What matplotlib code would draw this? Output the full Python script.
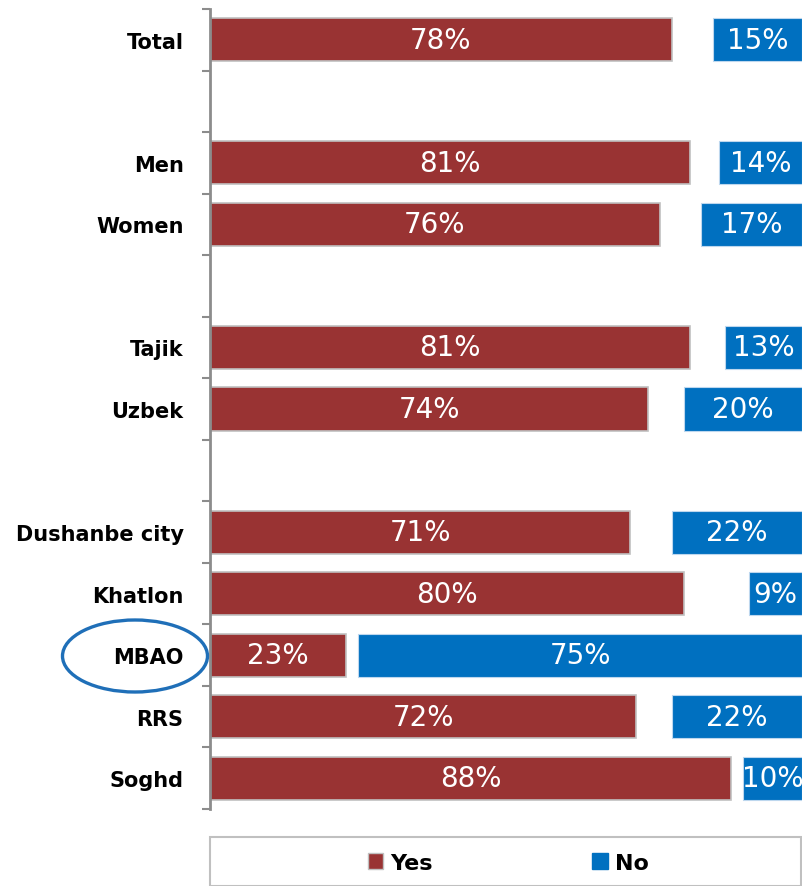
import matplotlib
matplotlib.use("Agg")
import matplotlib.pyplot as plt
from matplotlib.patches import Ellipse, Rectangle, Patch
import numpy as np

categories = ["Total", "", "Men", "Women", "", "Tajik", "Uzbek", "",
              "Dushanbe city", "Khatlon", "MBAO", "RRS", "Soghd"]
yes_vals = [78, None, 81, 76, None, 81, 74, None, 71, 80, 23, 72, 88]
no_vals = [15, None, 14, 17, None, 13, 20, None, 22, 9, 75, 22, 10]

YES_C = "#993333"
NO_C = "#0070C0"

plt.rcParams['font.family'] = ['DejaVu Sans']

fig = plt.figure(figsize=(8.02, 8.87), dpi=100)
ax = fig.add_axes([210/802, 1-810/887, 592/802, 800/887])

n = len(categories)
ys = np.arange(n)
bh = 0.70
for i, (c, yv, nv) in enumerate(zip(categories, yes_vals, no_vals)):
    if yv is None:
        continue
    ax.barh(i, yv, left=0, height=bh, color=YES_C, edgecolor="#c0c0c0", linewidth=1.2)
    ax.barh(i, nv, left=100 - nv, height=bh, color=NO_C, edgecolor="#bdd7ee", linewidth=0.8)
    ax.text(yv / 2, i, f"{yv}%", ha="center", va="center", color="white", fontsize=20)
    ax.text(100 - nv / 2, i, f"{nv}%", ha="center", va="center", color="white", fontsize=20)

ax.set_xlim(0, 100)
ax.set_ylim(n - 0.5, -0.5)
ax.set_xticks([])
for s in ["top", "right", "bottom"]:
    ax.spines[s].set_visible(False)
ax.spines["left"].set_color("#8c8c8c")
ax.spines["left"].set_linewidth(2)

ax.set_yticks(np.arange(-0.5, n, 1.0))
ax.set_yticklabels([])
ax.tick_params(axis="y", which="major", length=6, width=1.5, color="#8c8c8c")
ax.set_yticks(ys, minor=True)
ax.set_yticklabels(categories, minor=True, fontsize=15, fontweight="bold")
ax.tick_params(axis="y", which="minor", length=0, pad=19)

# ellipse around MBAO
ell = Ellipse((135/802, 1-657/887), 145/802, 72/887, transform=fig.transFigure,
              fill=False, edgecolor="#1F6FB8", linewidth=2.4, clip_on=False)
fig.patches.append(ell)

# legend box
rect = Rectangle((210/802, 0), 592/802 - 0.001, (887-838)/887, transform=fig.transFigure,
                 fill=False, edgecolor="#c0c0c0", linewidth=1.5)
fig.patches.append(rect)
handles = [Patch(facecolor=YES_C, edgecolor="#c0c0c0", label="Yes"),
           Patch(facecolor=NO_C, edgecolor=NO_C, label="No")]
fig.legend(handles=handles, loc="center", bbox_to_anchor=(508/802, 1-864/887),
           ncol=2, frameon=False, prop={"weight": "bold", "size": 16},
           handlelength=0.7, handleheight=0.7, handletextpad=0.3, columnspacing=7.2)

fig.savefig("out.png", dpi=100)
